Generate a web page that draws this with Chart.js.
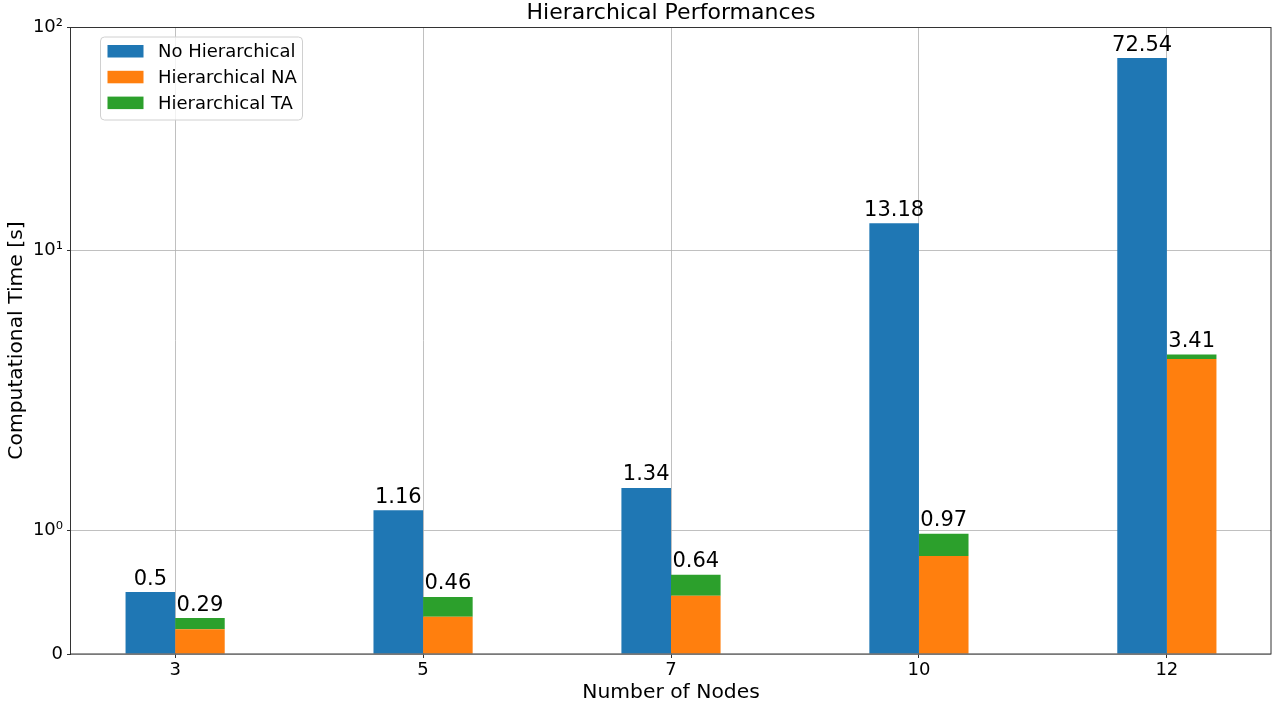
<!DOCTYPE html>
<html>
<head>
<meta charset="utf-8">
<title>Hierarchical Performances</title>
<style>
  html, body { margin: 0; padding: 0; background: #ffffff; }
  #wrap { width: 1283px; height: 708px; }
</style>
<script src="https://cdn.jsdelivr.net/npm/chart.js@4.4.1/dist/chart.umd.min.js"></script>
</head>
<body>
<div id="wrap"><canvas id="chart" width="1283" height="708"></canvas></div>
<script>
// ---- data ----
const categories = ['3', '5', '7', '10', '12'];
const noHierarchical = [0.5, 1.16, 1.34, 13.18, 72.54];
const hierarchicalNA = [0.20, 0.30, 0.47, 0.79, 3.25];
const hierarchicalTA = [0.09, 0.16, 0.17, 0.18, 0.16];
const yTickValues = [0, 1, 10, 100];
const yTickLabels = ['0', '10⁰', '10¹', '10²'];

const FONT = 'DejaVu Sans';
const COLORS = ['#1f77b4', '#ff7f0e', '#2ca02c'];

// ---- symmetric log scale (linear near zero, logarithmic beyond the threshold) ----
class SymlogScale extends Chart.LinearScale {
  static id = 'symlog';
  static defaults = { linthresh: 2, linscale: 1, base: 10 };

  _fwd(v) {
    const o = this.options;
    const lt = o.linthresh, adj = o.linscale / (1 - 1 / o.base);
    const a = Math.abs(v);
    if (a <= lt) return v * adj;
    return Math.sign(v) * lt * (adj + Math.log(a / lt) / Math.log(o.base));
  }
  _inv(t) {
    const o = this.options;
    const lt = o.linthresh, adj = o.linscale / (1 - 1 / o.base);
    const a = Math.abs(t);
    if (a <= lt * adj) return t / adj;
    return Math.sign(t) * lt * Math.pow(o.base, a / lt - adj);
  }
  buildTicks() {
    return yTickValues.map(v => ({ value: v }));
  }
  configure() {
    super.configure();
    this._tMin = this._fwd(this.min);
    this._tMax = this._fwd(this.max);
  }
  getPixelForValue(value) {
    return this.getPixelForDecimal((this._fwd(value) - this._tMin) / (this._tMax - this._tMin));
  }
  getValueForPixel(pixel) {
    const d = this.getDecimalForPixel(pixel);
    return this._inv(this._tMin + d * (this._tMax - this._tMin));
  }
}
Chart.register(SymlogScale);

const fmt = v => String(Math.round(v * 100) / 100);

// value labels above each bar / stack
const barValues = {
  id: 'barValues',
  afterDatasetsDraw(chart) {
    const ctx = chart.ctx;
    const single = chart.getDatasetMeta(0).data;
    const stackTop = chart.getDatasetMeta(2).data;
    ctx.save();
    ctx.font = '21px "' + FONT + '"';
    ctx.fillStyle = '#000';
    ctx.textAlign = 'center';
    ctx.textBaseline = 'alphabetic';
    categories.forEach((c, i) => {
      ctx.fillText(fmt(noHierarchical[i]), single[i].x, single[i].y - 7.5);
      ctx.fillText(fmt(hierarchicalNA[i] + hierarchicalTA[i]), stackTop[i].x, stackTop[i].y - 7.5);
    });
    ctx.restore();
  }
};

// axes frame on all four sides
const frame = {
  id: 'frame',
  afterDatasetsDraw(chart) {
    const { left, right, top, bottom } = chart.chartArea;
    const ctx = chart.ctx;
    ctx.save();
    ctx.strokeStyle = '#333';
    ctx.lineWidth = 1;
    ctx.strokeRect(Math.round(left) - 0.5, Math.round(top) + 0.5,
                   Math.round(right - left) + 0.5, Math.round(bottom - top) - 0.5);
    ctx.restore();
  }
};

// boxed legend inside the upper-left of the plot
const innerLegend = {
  id: 'innerLegend',
  afterDraw(chart) {
    const ctx = chart.ctx;
    const ca = chart.chartArea;
    const x0 = ca.left + 29.5, y0 = ca.top + 10, w = 202, h = 83, r = 4;
    ctx.save();
    ctx.beginPath();
    ctx.roundRect(x0, y0, w, h, r);
    ctx.fillStyle = 'rgba(255,255,255,0.8)';
    ctx.fill();
    ctx.strokeStyle = '#d0d0d0';
    ctx.lineWidth = 1;
    ctx.stroke();
    ctx.font = '18px "' + FONT + '"';
    ctx.textAlign = 'left';
    ctx.textBaseline = 'middle';
    chart.data.datasets.forEach((ds, i) => {
      const cy = y0 + 14.5 + i * 25.8;
      ctx.fillStyle = ds.backgroundColor;
      ctx.fillRect(x0 + 7, cy - 6.5, 36, 12.5);
      ctx.fillStyle = '#000';
      ctx.fillText(ds.label, x0 + 57.5, cy + 1);
    });
    ctx.restore();
  }
};

const gridOpts = {
  color: '#b0b0b0',
  lineWidth: 0.8,
  offset: false,
  drawTicks: true,
  tickLength: 4,
  tickColor: '#333',
  tickWidth: 1
};

new Chart(document.getElementById('chart'), {
  type: 'bar',
  data: {
    datasets: [
      {
        label: 'No Hierarchical',
        data: categories.map((c, i) => ({ x: i, y: noHierarchical[i] })),
        backgroundColor: COLORS[0],
        stack: 'single'
      },
      {
        label: 'Hierarchical NA',
        data: categories.map((c, i) => ({ x: i, y: hierarchicalNA[i] })),
        backgroundColor: COLORS[1],
        stack: 'hierarchical'
      },
      {
        label: 'Hierarchical TA',
        data: categories.map((c, i) => ({ x: i, y: hierarchicalTA[i] })),
        backgroundColor: COLORS[2],
        stack: 'hierarchical'
      }
    ]
  },
  options: {
    responsive: false,
    animation: false,
    events: [],
    layout: { padding: { left: 0, right: 12, top: 0, bottom: 0 } },
    datasets: {
      bar: { categoryPercentage: 0.4, barPercentage: 1.0, borderWidth: 0 }
    },
    scales: {
      x: {
        type: 'linear',
        min: -0.42,
        max: 4.42,
        offset: false,
        afterBuildTicks: s => { s.ticks = categories.map((c, i) => ({ value: i })); },
        afterFit: s => { s.height = 54; },
        grid: gridOpts,
        border: { display: false },
        ticks: {
          autoSkip: false,
          maxRotation: 0,
          padding: 2,
          color: '#000',
          font: { family: FONT, size: 18 },
          callback: v => categories[v]
        },
        title: {
          display: true,
          text: 'Number of Nodes',
          color: '#000',
          font: { family: FONT, size: 20.3 },
          padding: { top: 0, bottom: 2.8 }
        }
      },
      y: {
        type: 'symlog',
        min: 0,
        max: 100,
        stacked: true,
        afterFit: s => { s.width = 71; },
        grid: gridOpts,
        border: { display: false },
        ticks: {
          padding: 4,
          color: '#000',
          font: { family: FONT, size: 18 },
          callback: v => yTickLabels[yTickValues.indexOf(v)]
        },
        title: {
          display: true,
          text: 'Computational Time [s]',
          color: '#000',
          font: { family: FONT, size: 20.3 },
          padding: { top: 5, bottom: 0 }
        }
      }
    },
    plugins: {
      legend: { display: false },
      tooltip: { enabled: false },
      title: {
        display: true,
        fullSize: false,
        text: 'Hierarchical Performances',
        color: '#000',
        font: { family: FONT, size: 22, weight: 'normal' },
        padding: { top: 0.5, bottom: 0.1 }
      }
    }
  },
  plugins: [frame, barValues, innerLegend]
});
</script>
</body>
</html>
